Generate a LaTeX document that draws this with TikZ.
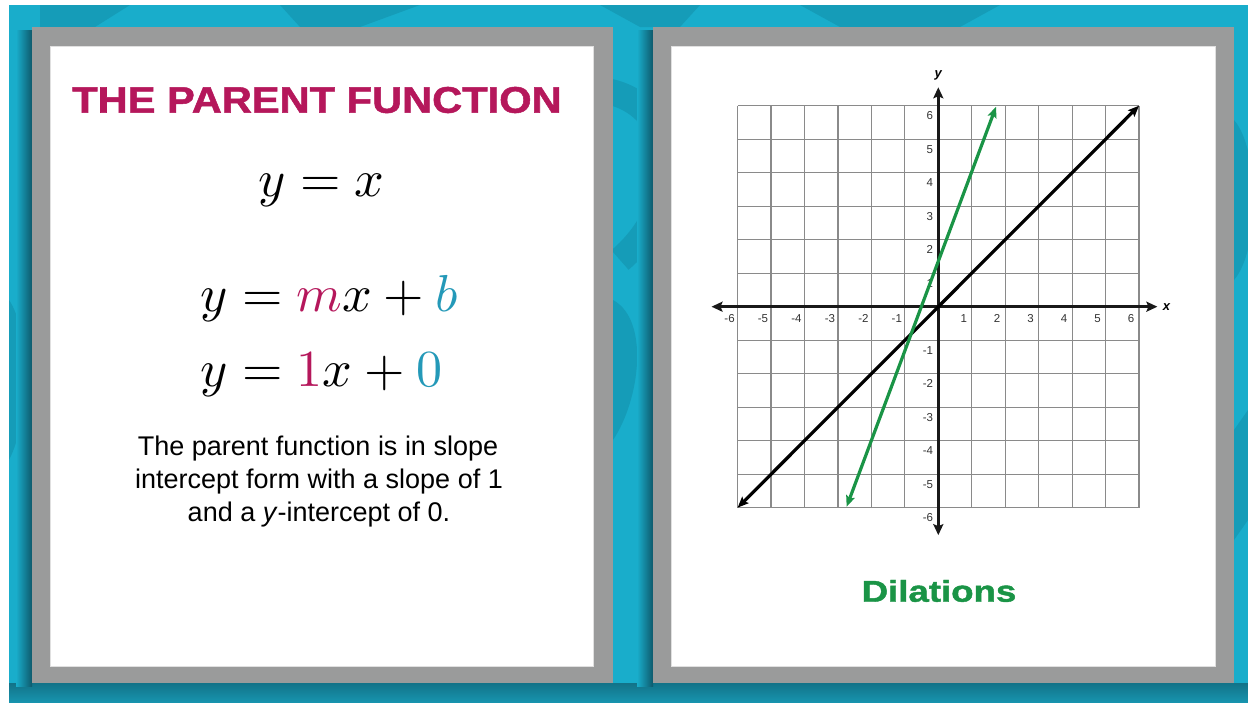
\documentclass[tikz,border=0pt]{standalone}
\usepackage[no-math]{fontspec}
\setmainfont{Liberation Sans}
\newfontfamily\heavyfont[FakeBold=1.3]{Liberation Sans Bold}
\usetikzlibrary{arrows.meta}
\definecolor{tealbg}{HTML}{19ADCB}
\definecolor{tealdk}{HTML}{159CB8}
\definecolor{tealbot}{HTML}{1794AE}
\definecolor{shadowc}{HTML}{0C4A5A}
\definecolor{framec}{HTML}{9A9B9B}
\definecolor{magen}{HTML}{B5175B}
\definecolor{bluec}{HTML}{2499B8}
\definecolor{greenc}{HTML}{1A9446}
\definecolor{gridc}{HTML}{8A8A8A}
\newcommand{\bigeq}[1]{\scalebox{5.2}{$#1$}}
\tikzset{
  frame/.style={fill=framec},
  inner/.style={fill=white, draw=black!12, line width=0.8pt},
  titletext/.style={text=magen, font=\fontsize{37}{40}\selectfont\heavyfont, inner sep=0pt},
  eqtext/.style={font=\fontsize{10}{12}\selectfont, inner sep=0pt},
  bodytext/.style={font=\fontsize{27}{33}\selectfont, inner sep=0pt, anchor=base},
  ticklab/.style={font=\fontsize{11.5}{12}\selectfont, text=black!80, inner sep=0pt},
  axislab/.style={font=\fontsize{13}{14}\selectfont\bfseries\itshape, inner sep=0pt},
  axisline/.style={line width=3.2pt, black!90, {Stealth[length=11pt,width=10pt,inset=2pt]}-{Stealth[length=11pt,width=10pt,inset=2pt]}},
  plotline/.style={line width=3.2pt, {Stealth[length=11pt,width=9pt,inset=2pt]}-{Stealth[length=11pt,width=9pt,inset=2pt]}},
}
\begin{document}
\begin{tikzpicture}[x=1pt,y=-1pt]
\useasboundingbox (0,0) rectangle (1248,702);
\fill[white] (0,0) rectangle (1248,702);
% background
\fill[tealbg] (9,5) rectangle (1248,702);
% background pattern hints
\begin{scope}
\clip (9,5) rectangle (1248,702);
\fill[tealdk] (40,5) -- (130,5) -- (95,27) -- (40,60) -- cycle;
\fill[tealdk] (280,5) -- (420,5) -- (360,27) -- (300,27) -- cycle;
\fill[tealdk] (600,5) -- (700,5) -- (680,27) -- (640,27) -- cycle;
\draw[tealdk, line width=26pt] (600,90) .. controls (680,100) and (690,200) .. (620,260);
\fill[tealdk] (613,300) .. controls (650,320) and (640,400) .. (613,440) -- cycle;
\fill[tealdk] (1234,120) .. controls (1260,150) and (1260,250) .. (1234,280) -- cycle;
\fill[tealdk] (1234,430) -- (1248,410) -- (1248,520) -- (1234,540) -- cycle;
\fill[tealdk] (9,300) .. controls (30,330) and (30,420) .. (9,460) -- cycle;
\fill[tealdk] (800,5) -- (1000,5) -- (960,27) -- (840,27) -- cycle;
\end{scope}
% bottom band
\shade[top color=shadowc!45!tealbot, bottom color=tealbot] (9,683) rectangle (1248,702);
% shadows
\shade[left color=tealbg, right color=shadowc!85!tealbg] (16,30) rectangle (32,686);
\shade[left color=tealbg, right color=shadowc!85!tealbg] (637,30) rectangle (653,686);
% cards
\fill[frame] (32,27) rectangle (613,683);
\filldraw[inner] (50,46) rectangle (593,666);
\fill[frame] (653,27) rectangle (1234,683);
\filldraw[inner] (671,46) rectangle (1215,666);
% left card texts
\node[titletext] (title) at (317,100) {\scalebox{1.125}[1]{THE PARENT FUNCTION}};
\node[eqtext, anchor=base] (eq0) at (321.5,196.7) {\bigeq{y = x}};
\node[eqtext, anchor=base west] (eq1) at (200,311.7) {\bigeq{y = \textcolor{magen}{m}x + \textcolor{bluec}{b}}};
\node[eqtext, anchor=base west] (eq2) at (200,386.7) {\bigeq{y = \textcolor{magen}{1}x + \textcolor{bluec}{0}}};
\node[bodytext] (body1) at (318,455) {The parent function is in slope};
\node[bodytext] (body2) at (319,488.3) {intercept form with a slope of 1};
\node[bodytext] (body3) at (319,521.7) {and a \textit{y}-intercept of 0.};
% graph
\begin{scope}[shift={(938.3,306.7)}, x=33.45pt, y=33.5pt]
  \draw[gridc, line width=1.2pt, step=1] (-6,-6) grid (6,6);
  \coordinate (xl) at (-6.78,0);
  \coordinate (xr) at (6.55,0);
  \coordinate (yb) at (0,-6.82);
  \coordinate (yt) at (0,6.55);
  \draw[axisline] (xl) -- (xr);
  \draw[axisline] (yb) -- (yt);
  \foreach \i in {-6,-5,-4,-3,-2,-1,1,2,3,4,5,6} {
    \node[ticklab] (xt\i) at (\i-0.24,-0.36) {\i};
    \node[ticklab, anchor=east] (yt\i) at (-0.15,\i-0.3) {\i};
  }
  \node[axislab] (xlabel) at (6.82,0) {x};
  \node[axislab] (ylabel) at (0,6.9) {y};
  \coordinate (b1) at (-6,-6);
  \coordinate (b2) at (6,6);
  \draw[plotline, black] (b1) -- (b2);
  \coordinate (g1) at (-2.74,-5.97);
  \coordinate (g2) at (1.725,5.97);
  \draw[plotline, greenc] (g1) -- (g2);
\end{scope}
\node[text=greenc, font=\fontsize{30}{32}\selectfont\heavyfont, inner sep=0pt, anchor=base] (dil) at (939,601.7) {\scalebox{1.22}[1]{Dilations}};
\end{tikzpicture}
\end{document}
